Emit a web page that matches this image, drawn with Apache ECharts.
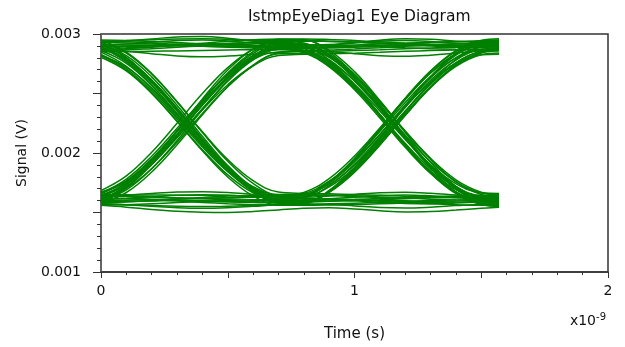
<!DOCTYPE html>
<html><head><meta charset="utf-8">
<script src="https://cdn.jsdelivr.net/npm/echarts@6/dist/echarts.min.js"></script>
<style>html,body{margin:0;padding:0;background:#fff}#c{width:625px;height:347px}</style>
</head><body><div id="c"></div>
<script>
// time samples (units of 1e-9 s)
const timeNs = [0,0.1,0.2,0.3,0.4,0.5,0.6,0.7,0.8,0.9,1.0,1.1,1.2,1.3,1.4,1.5,1.57];
// y tick labels (V) and x tick labels (x1e-9 s)
const yTickLabels = [0.001, 0.002, 0.003];
const xTickLabels = [0, 1, 2];
// eye-diagram traces, signal in V, one value per time sample
const tr01 = [0.002930,0.002942,0.002958,0.002975,0.002978,0.002965,0.002940,0.002915,0.002900,0.002908,0.002925,0.002948,0.002960,0.002955,0.002940,0.002930,0.002925];
const tr02 = [0.002870,0.002855,0.002835,0.002815,0.002808,0.002815,0.002830,0.002845,0.002855,0.002850,0.002835,0.002818,0.002812,0.002822,0.002840,0.002860,0.002870];
const tr03 = [0.002895,0.002900,0.002905,0.002912,0.002915,0.002910,0.002903,0.002895,0.002890,0.002892,0.002898,0.002905,0.002910,0.002908,0.002900,0.002893,0.002890];
const tr04 = [0.002891,0.002894,0.002900,0.002907,0.002915,0.002922,0.002927,0.002930,0.002914,0.002809,0.002621,0.002379,0.002120,0.001882,0.001704,0.001611,0.001600];
const tr05 = [0.002929,0.002924,0.002916,0.002907,0.002897,0.002889,0.002883,0.002880,0.002852,0.002735,0.002545,0.002309,0.002065,0.001848,0.001693,0.001623,0.001620];
const tr06 = [0.002871,0.002877,0.002889,0.002905,0.002922,0.002939,0.002952,0.002959,0.002953,0.002863,0.002684,0.002441,0.002173,0.001920,0.001719,0.001602,0.001580];
const tr07 = [0.002881,0.002774,0.002588,0.002352,0.002100,0.001872,0.001703,0.001618,0.001625,0.001726,0.001905,0.002136,0.002383,0.002611,0.002781,0.002870,0.002880];
const tr08 = [0.002848,0.002729,0.002538,0.002303,0.002064,0.001855,0.001706,0.001641,0.001668,0.001785,0.001975,0.002211,0.002455,0.002672,0.002827,0.002898,0.002900];
const tr09 = [0.002911,0.002818,0.002640,0.002401,0.002140,0.001895,0.001706,0.001597,0.001586,0.001670,0.001838,0.002065,0.002315,0.002553,0.002740,0.002849,0.002870];
const tr10 = [0.002891,0.002784,0.002598,0.002362,0.002110,0.001882,0.001713,0.001628,0.001618,0.001610,0.001598,0.001585,0.001576,0.001574,0.001580,0.001587,0.001590];
const tr11 = [0.002818,0.002698,0.002505,0.002269,0.002028,0.001816,0.001666,0.001601,0.001601,0.001605,0.001611,0.001618,0.001626,0.001633,0.001638,0.001640,0.001640];
const tr12 = [0.002881,0.002790,0.002614,0.002379,0.002122,0.001880,0.001694,0.001587,0.001570,0.001573,0.001578,0.001585,0.001593,0.001600,0.001606,0.001609,0.001610];
const tr13 = [0.001639,0.001744,0.001925,0.002156,0.002401,0.002624,0.002789,0.002872,0.002880,0.002884,0.002889,0.002897,0.002904,0.002912,0.002917,0.002920,0.002920];
const tr14 = [0.001633,0.001753,0.001945,0.002181,0.002423,0.002634,0.002784,0.002849,0.002851,0.002855,0.002861,0.002868,0.002876,0.002883,0.002888,0.002890,0.002890];
const tr15 = [0.001649,0.001736,0.001903,0.002128,0.002373,0.002604,0.002782,0.002884,0.002900,0.002903,0.002908,0.002915,0.002923,0.002930,0.002936,0.002939,0.002940];
const tr16 = [0.001629,0.001736,0.001922,0.002158,0.002410,0.002638,0.002807,0.002892,0.002885,0.002784,0.002603,0.002370,0.002121,0.001891,0.001720,0.001630,0.001620];
const tr17 = [0.001662,0.001781,0.001972,0.002207,0.002446,0.002656,0.002804,0.002869,0.002842,0.002724,0.002532,0.002295,0.002048,0.001830,0.001674,0.001603,0.001600];
const tr18 = [0.001599,0.001691,0.001868,0.002105,0.002364,0.002607,0.002795,0.002903,0.002914,0.002830,0.002662,0.002435,0.002185,0.001947,0.001760,0.001651,0.001630];
const tr19 = [0.001600,0.001603,0.001607,0.001613,0.001619,0.001624,0.001628,0.001630,0.001645,0.001746,0.001925,0.002156,0.002403,0.002631,0.002801,0.002890,0.002900];
const tr20 = [0.001561,0.001566,0.001574,0.001583,0.001593,0.001601,0.001607,0.001610,0.001638,0.001755,0.001945,0.002181,0.002425,0.002642,0.002797,0.002868,0.002870];
const tr21 = [0.001620,0.001617,0.001612,0.001605,0.001597,0.001589,0.001584,0.001581,0.001587,0.001674,0.001848,0.002084,0.002344,0.002590,0.002785,0.002899,0.002920];
const tr22 = [0.001560,0.001545,0.001525,0.001510,0.001502,0.001500,0.001508,0.001522,0.001535,0.001540,0.001530,0.001515,0.001505,0.001508,0.001520,0.001535,0.001545];
const tr23 = [0.001630,0.001645,0.001660,0.001672,0.001675,0.001668,0.001652,0.001638,0.001630,0.001638,0.001652,0.001665,0.001670,0.001662,0.001648,0.001635,0.001630];
const tr24 = [0.001590,0.001592,0.001596,0.001600,0.001598,0.001594,0.001590,0.001588,0.001590,0.001595,0.001600,0.001602,0.001598,0.001592,0.001588,0.001586,0.001585];
const tr25 = [0.002880,0.002885,0.002893,0.002902,0.002908,0.002905,0.002895,0.002885,0.002880,0.002884,0.002893,0.002902,0.002906,0.002900,0.002890,0.002884,0.002880];
const tr26 = [0.002940,0.002935,0.002925,0.002915,0.002912,0.002918,0.002930,0.002940,0.002945,0.002940,0.002930,0.002922,0.002920,0.002926,0.002935,0.002942,0.002945];
const tr27 = [0.002905,0.002915,0.002930,0.002945,0.002950,0.002942,0.002925,0.002910,0.002905,0.002912,0.002928,0.002942,0.002946,0.002938,0.002922,0.002910,0.002905];
const tr28 = [0.002910,0.002908,0.002905,0.002902,0.002898,0.002894,0.002891,0.002890,0.002863,0.002746,0.002558,0.002324,0.002081,0.001866,0.001713,0.001643,0.001640];
const tr29 = [0.002862,0.002867,0.002877,0.002888,0.002900,0.002910,0.002917,0.002920,0.002913,0.002825,0.002648,0.002409,0.002145,0.001895,0.001697,0.001582,0.001560];
const tr30 = [0.002940,0.002945,0.002952,0.002958,0.002960,0.002955,0.002948,0.002942,0.002924,0.002819,0.002631,0.002389,0.002130,0.001892,0.001714,0.001621,0.001610];
const tr31 = [0.002910,0.002800,0.002608,0.002365,0.002105,0.001870,0.001696,0.001608,0.001629,0.001751,0.001949,0.002193,0.002448,0.002673,0.002834,0.002907,0.002910];
const tr32 = [0.002828,0.002710,0.002521,0.002288,0.002051,0.001843,0.001695,0.001631,0.001636,0.001716,0.001876,0.002093,0.002331,0.002557,0.002736,0.002840,0.002860];
const tr33 = [0.002881,0.002789,0.002612,0.002375,0.002116,0.001873,0.001685,0.001577,0.001576,0.001685,0.001878,0.002127,0.002394,0.002640,0.002823,0.002919,0.002930];
const tr34 = [0.002861,0.002754,0.002568,0.002332,0.002080,0.001852,0.001683,0.001598,0.001591,0.001595,0.001601,0.001608,0.001616,0.001623,0.001628,0.001630,0.001630];
const tr35 = [0.002887,0.002765,0.002570,0.002330,0.002084,0.001870,0.001717,0.001651,0.001650,0.001647,0.001640,0.001631,0.001622,0.001612,0.001605,0.001601,0.001600];
const tr36 = [0.002931,0.002840,0.002664,0.002429,0.002172,0.001930,0.001744,0.001637,0.001619,0.001615,0.001606,0.001595,0.001583,0.001573,0.001565,0.001560,0.001560];
const tr37 = [0.001610,0.001719,0.001909,0.002151,0.002408,0.002642,0.002815,0.002902,0.002909,0.002905,0.002899,0.002892,0.002884,0.002877,0.002872,0.002870,0.002870];
const tr38 = [0.001684,0.001807,0.002006,0.002250,0.002499,0.002717,0.002872,0.002939,0.002940,0.002937,0.002932,0.002925,0.002917,0.002910,0.002904,0.002901,0.002900];
const tr39 = [0.001579,0.001668,0.001840,0.002069,0.002321,0.002557,0.002739,0.002843,0.002861,0.002865,0.002874,0.002885,0.002897,0.002907,0.002915,0.002920,0.002920];
const tr40 = [0.001659,0.001766,0.001952,0.002188,0.002440,0.002668,0.002837,0.002922,0.002901,0.002776,0.002574,0.002323,0.002063,0.001833,0.001668,0.001593,0.001590];
const tr41 = [0.001604,0.001731,0.001934,0.002184,0.002439,0.002662,0.002820,0.002889,0.002884,0.002803,0.002642,0.002424,0.002183,0.001955,0.001775,0.001670,0.001650];
const tr42 = [0.001619,0.001704,0.001869,0.002090,0.002332,0.002559,0.002733,0.002834,0.002835,0.002734,0.002553,0.002320,0.002071,0.001841,0.001670,0.001580,0.001570];
const tr43 = [0.001639,0.001636,0.001630,0.001623,0.001615,0.001608,0.001603,0.001600,0.001629,0.001753,0.001954,0.002203,0.002461,0.002689,0.002853,0.002927,0.002930];
const tr44 = [0.001582,0.001589,0.001599,0.001613,0.001626,0.001638,0.001646,0.001650,0.001656,0.001736,0.001896,0.002113,0.002351,0.002577,0.002756,0.002860,0.002880];
const tr45 = [0.001620,0.001615,0.001607,0.001597,0.001585,0.001574,0.001566,0.001561,0.001576,0.001678,0.001862,0.002098,0.002352,0.002584,0.002759,0.002850,0.002860];
const tr46 = [0.001610,0.001620,0.001632,0.001645,0.001650,0.001645,0.001632,0.001620,0.001612,0.001615,0.001628,0.001642,0.001648,0.001640,0.001625,0.001615,0.001610];
const tr47 = [0.001575,0.001565,0.001552,0.001540,0.001535,0.001540,0.001552,0.001565,0.001572,0.001568,0.001555,0.001542,0.001538,0.001545,0.001558,0.001570,0.001575];
const tr48 = [0.001645,0.001640,0.001632,0.001622,0.001618,0.001622,0.001630,0.001640,0.001645,0.001642,0.001634,0.001625,0.001620,0.001625,0.001634,0.001642,0.001646];
const tr49 = [0.002949,0.002945,0.002937,0.002928,0.002918,0.002909,0.002903,0.002900,0.002877,0.002763,0.002570,0.002324,0.002065,0.001831,0.001659,0.001575,0.001570];
const tr50 = [0.002850,0.002852,0.002855,0.002858,0.002862,0.002866,0.002868,0.002870,0.002860,0.002772,0.002608,0.002388,0.002150,0.001929,0.001757,0.001663,0.001650];
const tr51 = [0.002923,0.002804,0.002606,0.002358,0.002100,0.001869,0.001703,0.001624,0.001643,0.001757,0.001950,0.002196,0.002455,0.002689,0.002861,0.002945,0.002950];
const tr52 = [0.002817,0.002722,0.002547,0.002318,0.002073,0.001846,0.001675,0.001581,0.001580,0.001672,0.001843,0.002072,0.002319,0.002549,0.002728,0.002826,0.002840];
const tr53 = [0.002805,0.002690,0.002501,0.002265,0.002019,0.001798,0.001639,0.001564,0.001561,0.001563,0.001567,0.001573,0.001579,0.001584,0.001588,0.001590,0.001590];
const tr54 = [0.002947,0.002848,0.002668,0.002432,0.002179,0.001945,0.001768,0.001672,0.001660,0.001657,0.001651,0.001644,0.001636,0.001629,0.001624,0.001620,0.001620];
const tr55 = [0.001588,0.001714,0.001923,0.002183,0.002455,0.002698,0.002873,0.002956,0.002959,0.002954,0.002945,0.002934,0.002922,0.002912,0.002904,0.002900,0.002900];
const tr56 = [0.001672,0.001761,0.001923,0.002135,0.002363,0.002574,0.002733,0.002820,0.002830,0.002833,0.002839,0.002846,0.002854,0.002861,0.002866,0.002870,0.002870];
const tr57 = [0.001586,0.001705,0.001902,0.002147,0.002404,0.002633,0.002798,0.002876,0.002859,0.002754,0.002577,0.002352,0.002114,0.001899,0.001742,0.001665,0.001660];
const tr58 = [0.001663,0.001763,0.001945,0.002182,0.002437,0.002673,0.002851,0.002948,0.002949,0.002847,0.002657,0.002403,0.002128,0.001873,0.001674,0.001566,0.001550];
const tr59 = [0.001650,0.001649,0.001647,0.001646,0.001644,0.001642,0.001641,0.001640,0.001660,0.001763,0.001935,0.002155,0.002387,0.002597,0.002750,0.002825,0.002830];
const tr60 = [0.001570,0.001565,0.001558,0.001552,0.001550,0.001553,0.001560,0.001567,0.001581,0.001681,0.001869,0.002119,0.002390,0.002642,0.002838,0.002945,0.002960];

const traces = [tr01,tr02,tr03,tr04,tr05,tr06,tr07,tr08,tr09,tr10,tr11,tr12,
                tr13,tr14,tr15,tr16,tr17,tr18,tr19,tr20,tr21,tr22,tr23,tr24,
                tr25,tr26,tr27,tr28,tr29,tr30,tr31,tr32,tr33,tr34,tr35,tr36,
                tr37,tr38,tr39,tr40,tr41,tr42,tr43,tr44,tr45,tr46,tr47,tr48,
                tr49,tr50,tr51,tr52,tr53,tr54,tr55,tr56,tr57,tr58,tr59,tr60];

const FONT = 'DejaVu Sans';
const chart = echarts.init(document.getElementById('c'), null, {renderer: 'canvas'});

function isLabel(list, v) {
  return list.some(t => Math.abs(t - v) < 1e-9);
}

chart.setOption({
  animation: false,
  backgroundColor: '#fff',
  title: [
    { text: 'IstmpEyeDiag1 Eye Diagram', left: 243, top: 4,
      textStyle: { fontFamily: FONT, fontSize: 15.5, fontWeight: 'normal', color: '#111' } },
    { text: 'x10{sup|-9}', right: 14, top: 307,
      textStyle: { fontFamily: FONT, fontSize: 14, fontWeight: 'normal', color: '#111',
        rich: { sup: { fontFamily: FONT, fontSize: 10, color: '#111', verticalAlign: 'top', padding: [0,0,8,0] } } } }
  ],
  grid: { left: 101, right: 17, top: 34, bottom: 74, show: true, borderColor: '#333', borderWidth: 1.5, backgroundColor: 'transparent' },
  xAxis: {
    type: 'value', min: 0, max: 2, interval: 0.5,
    name: 'Time (s)', nameLocation: 'middle', nameGap: 55,
    nameTextStyle: { fontFamily: FONT, fontSize: 15, color: '#111' },
    axisLine: { show: true, onZero: false, lineStyle: { color: '#333', width: 1.5 } },
    axisTick: { show: true, inside: false, length: 6, lineStyle: { color: '#333' } },
    minorTick: { show: true, splitNumber: 5, length: 3, lineStyle: { color: '#333' } },
    splitLine: { show: false },
    axisLabel: { margin: 12, fontFamily: FONT, fontSize: 14, color: '#111',
      formatter: v => isLabel(xTickLabels, v) ? String(Math.round(v)) : '' }
  },
  yAxis: {
    type: 'value', min: 0.001, max: 0.003, interval: 0.0005,
    name: 'Signal (V)', nameLocation: 'middle', nameGap: 72, nameRotate: 90,
    nameTextStyle: { fontFamily: FONT, fontSize: 14, color: '#111' },
    axisLine: { show: true, onZero: false, lineStyle: { color: '#666', width: 2 } },
    axisTick: { show: true, inside: false, length: 8, lineStyle: { color: '#333' } },
    minorTick: { show: true, splitNumber: 5, length: 4, lineStyle: { color: '#333' } },
    splitLine: { show: false },
    axisLabel: { margin: 20, fontFamily: FONT, fontSize: 14, color: '#111',
      formatter: v => isLabel(yTickLabels, v) ? v.toFixed(3) : '' }
  },
  series: traces.map((tr, k) => ({
    name: 'trace' + (k + 1),
    type: 'line',
    data: timeNs.map((t, i) => [t, tr[i]]),
    showSymbol: false, symbol: 'none',
    smooth: 0.4,
    silent: true,
    lineStyle: { color: '#008000', width: 1.5 },
    itemStyle: { color: '#008000' }
  }))
});
</script>
</body></html>
